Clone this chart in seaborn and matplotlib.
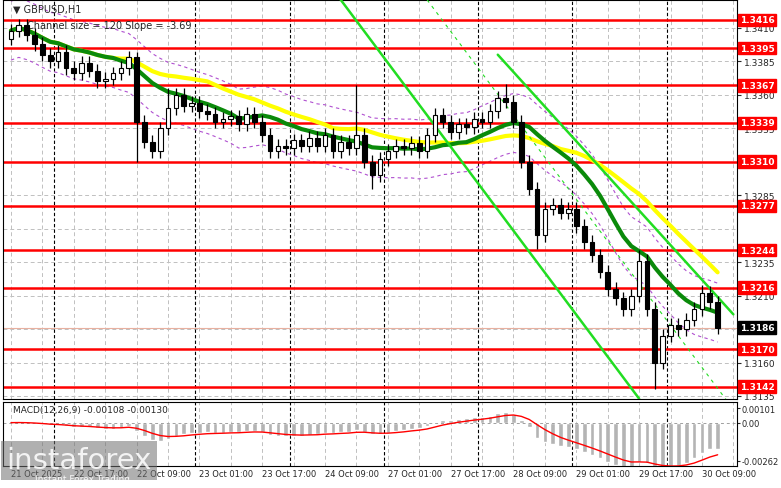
import numpy as np
import pandas as pd
import matplotlib
matplotlib.use("Agg")
import matplotlib.pyplot as plt
import seaborn as sns

# 2-hour bars, GBPUSD
closes = [1.3408, 1.3412, 1.3405, 1.3398, 1.3390, 1.3385, 1.3392, 1.3380, 1.3376, 1.3384,
          1.3378, 1.3370, 1.3372, 1.3376, 1.3380, 1.3388, 1.3340, 1.3325, 1.3318, 1.3335,
          1.3350, 1.3360, 1.3352, 1.3354, 1.3348, 1.3346, 1.3340, 1.3342, 1.3344, 1.3338,
          1.3346, 1.3340, 1.3330, 1.3318, 1.3322, 1.3320, 1.3326, 1.3322, 1.3328, 1.3322,
          1.3330, 1.3318, 1.3325, 1.3320, 1.3330, 1.3310, 1.3300, 1.3312, 1.3318, 1.3322,
          1.3320, 1.3324, 1.3318, 1.3330, 1.3345, 1.3340, 1.3332, 1.3338, 1.3336, 1.3342,
          1.3340, 1.3348, 1.3358, 1.3355, 1.3340, 1.3310, 1.3290, 1.3255, 1.3275, 1.3278,
          1.3272, 1.3275, 1.3262, 1.3250, 1.3240, 1.3228, 1.3215, 1.3208, 1.3200, 1.3210,
          1.3236, 1.3200, 1.3160, 1.3180, 1.3188, 1.3185, 1.3192, 1.3200, 1.3212, 1.3205,
          1.3186]
spike_high = {16: 1.3392, 20: 1.3365, 44: 1.3367, 63: 1.3368, 80: 1.3244, 88: 1.3218}
spike_low = {16: 1.3310, 46: 1.3290, 67: 1.3245, 82: 1.3140}

levels = [1.3416, 1.3395, 1.3367, 1.3339, 1.3310, 1.3277, 1.3244, 1.3216, 1.3170, 1.3142]
last_price = 1.3186
price_ticks = [1.3410, 1.3385, 1.3360, 1.3335, 1.3285, 1.3235, 1.3210, 1.3160, 1.3135]

time_labels = ["21 Oct 2025", "22 Oct 17:00", "22 Oct 09:00", "23 Oct 01:00", "23 Oct 17:00",
               "24 Oct 09:00", "27 Oct 01:00", "27 Oct 17:00", "28 Oct 09:00",
               "29 Oct 01:00", "29 Oct 17:00", "30 Oct 09:00"]
time_label_bars = [0, 8, 16, 24, 32, 40, 48, 56, 64, 72, 80, 88]
day_breaks = [5.5, 23.5, 35.5, 47.5, 59.5, 71.5, 83.5]

# channel lines: (bar, price) pairs
chan_lower = [(42, 1.3431), (80, 1.3133)]
chan_upper = [(62, 1.3390), (92, 1.3196)]
chan_mid = [(53, 1.3431), (92, 1.3125)]

df = pd.DataFrame({"close": closes})
df["open"] = df["close"].shift(1).fillna(1.3402)
df["i"] = np.arange(len(df))
df["high"] = df[["open", "close"]].max(axis=1) + 0.0005
df["low"] = df[["open", "close"]].min(axis=1) - 0.0005
for k, v in spike_high.items():
    df.loc[k, "high"] = v
for k, v in spike_low.items():
    df.loc[k, "low"] = v
df["ma_fast"] = df["close"].rolling(14, min_periods=1).mean()
df["ma_slow"] = df["close"].rolling(26, min_periods=1).mean()
fast = df["close"].ewm(span=9).mean() - df["close"].ewm(span=20).mean()
df["macd"] = fast
df["signal"] = fast.ewm(span=6).mean()

sns.set_style("white")
plt.rcParams["font.family"] = ["DejaVu Sans"]
fig = plt.figure(figsize=(7.81, 4.89), dpi=100)
ax = fig.add_axes([0.004, 0.183, 0.940, 0.815])
ax2 = fig.add_axes([0.004, 0.045, 0.940, 0.13])

ylo, yhi = 1.31331, 1.34309
xlo, xhi = -1, 92.5
for a in (ax, ax2):
    a.set_xlim(xlo, xhi)
    for s in a.spines.values():
        s.set_color("black")
        s.set_linewidth(0.8)
    for x in range(0, 93, 4):
        a.axvline(x, color="#c0c0c0", ls=(0, (4, 3)), lw=0.7, zorder=0)
    for x in day_breaks:
        a.axvline(x, color="black", ls=(0, (3, 2)), lw=0.8, zorder=0.5)
ax.set_ylim(ylo, yhi)
for p in np.arange(1.3135, 1.3431, 0.0025):
    ax.axhline(p, color="#c0c0c0", ls=(0, (4, 3)), lw=0.7, zorder=0)

# envelope around fast MA
ax.plot(df["i"], df["ma_fast"] + 0.0022, color="#b050d0", ls=(0, (3, 3)), lw=0.8)
ax.plot(df["i"], df["ma_fast"] - 0.0022, color="#b050d0", ls=(0, (3, 3)), lw=0.8)

for lv in levels:
    ax.axhline(lv, color="red", lw=1.8, zorder=2)
ax.axhline(last_price, color="#e8b0a0", lw=0.8, zorder=2)

sns.lineplot(data=df, x="i", y="ma_slow", ax=ax, color="yellow", lw=3, zorder=3)
sns.lineplot(data=df, x="i", y="ma_fast", ax=ax, color="#0a8a0a", lw=3, zorder=3)

for pts, st, w in ((chan_lower, "-", 1.8), (chan_upper, "-", 1.8), (chan_mid, (0, (3, 4)), 0.8)):
    ax.plot([pts[0][0], pts[1][0]], [pts[0][1], pts[1][1]], color="#22dd22", ls=st, lw=w, zorder=4)

for _, r in df.iterrows():
    ax.vlines(r["i"], r["low"], r["high"], color="black", lw=0.9, zorder=5)
    up = r["close"] >= r["open"]
    b = min(r["open"], r["close"])
    h = max(abs(r["close"] - r["open"]), 0.00008)
    ax.bar(r["i"], h, bottom=b, width=0.6, color="white" if up else "black",
           edgecolor="black", lw=0.8, zorder=6)

ax.set_xticks([])
ax.yaxis.tick_right()
ax.set_yticks(price_ticks)
ax.set_yticklabels([f"{p:.4f}" for p in price_ticks], fontsize=6.5)
ax.tick_params(axis="y", length=3, pad=2)
ax.set_xlabel("")
ax.set_ylabel("")
for lv in levels:
    ax.text(xhi + 0.3, lv, f"{lv:.4f}", color="white", fontsize=6.5, fontweight="bold",
            va="center", ha="left", clip_on=False,
            bbox=dict(boxstyle="square,pad=0.2", fc="red", ec="red"))
ax.text(xhi + 0.3, last_price, f"{last_price:.4f}", color="white", fontsize=6.5, fontweight="bold",
        va="center", ha="left", clip_on=False,
        bbox=dict(boxstyle="square,pad=0.2", fc="black", ec="black"))
ax.text(0.3, yhi - 0.0003, "\u25bc GBPUSD,H1", fontsize=7, va="top")
ax.text(2.0, yhi - 0.0015, "Channel size = 120 Slope = -3.69", fontsize=7, va="top")

# MACD panel
ax2.bar(df["i"], df["macd"], width=0.6, color="#b4b4b4", zorder=2)
sns.lineplot(data=df, x="i", y="signal", ax=ax2, color="red", lw=1.0, zorder=3)
ax2.axhline(0, color="#a0a0a0", ls=(0, (3, 3)), lw=0.7)
ax2.set_ylim(-0.0030, 0.0014)
ax2.yaxis.tick_right()
ax2.set_yticks([0.00101, 0.0, -0.00262])
ax2.set_yticklabels(["0.00101", "0.00", "-0.00262"], fontsize=6)
ax2.tick_params(axis="y", length=2, pad=1)
ax2.set_xticks(time_label_bars)
ax2.set_xticklabels(time_labels, fontsize=6, ha="left")
ax2.tick_params(axis="x", length=0, pad=2)
ax2.set_xlabel("")
ax2.set_ylabel("")
ax2.text(0.3, 0.0012, "MACD(12,26,9) -0.00108 -0.00130", fontsize=6.5, va="top")

fig.text(0.008, 0.04, "instaforex", fontsize=21, color="white", alpha=0.85,
         bbox=dict(fc="#707070", ec="none", alpha=0.55, pad=4))
fig.text(0.045, 0.015, "Instant Forex Trading", fontsize=6.5, color="white", alpha=0.9)

fig.savefig("out.png", dpi=100)
